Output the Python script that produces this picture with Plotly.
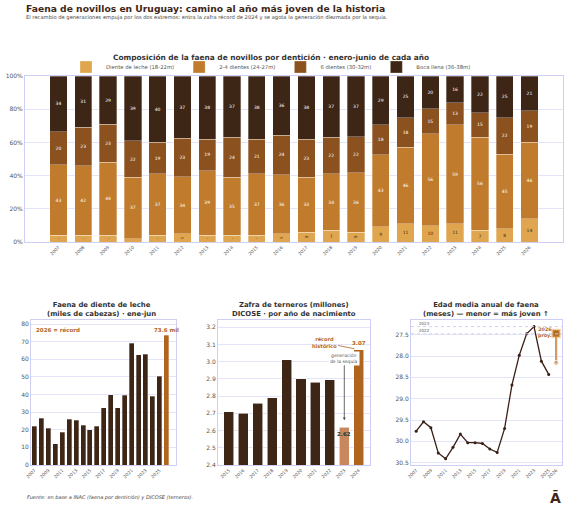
import plotly.graph_objects as go

# --- data -------------------------------------------------------------
years = list(range(2007, 2027))
diente_leche = [4, 4, 4, 2, 4, 5, 4, 4, 4, 5, 6, 7, 6, 9, 11, 10, 11, 7, 8, 14]
dientes_2_4 = [43, 42, 44, 37, 37, 34, 39, 35, 37, 36, 33, 34, 36, 43, 46, 56, 59, 56, 45, 46]
dientes_6 = [20, 23, 23, 22, 19, 23, 19, 24, 21, 24, 23, 22, 22, 18, 18, 15, 13, 15, 22, 19]
boca_llena = [34, 31, 29, 39, 40, 37, 38, 37, 38, 36, 38, 37, 37, 29, 25, 20, 16, 22, 25, 21]
pct_ticks = [0, 20, 40, 60, 80, 100]

leche_miles = [22, 26.5, 21, 12, 18.5, 26, 25.5, 22.5, 20, 22, 32.5, 40, 32.5, 39.5,
               69, 62.5, 63, 39, 50.5, 73.6]

zafra_years = list(range(2015, 2025))
zafra_mill = [2.71, 2.70, 2.76, 2.79, 3.01, 2.90, 2.88, 2.895, 2.62, 3.07]

edad_years = list(range(2007, 2026))
edad_meses = [29.76, 29.54, 29.68, 30.27, 30.41, 30.14, 29.83, 30.03, 30.03, 30.05,
              30.18, 30.26, 29.70, 28.68, 27.98, 27.48, 27.31, 28.12, 28.43]
proy_2026 = 27.47
proy_2026_bajo = 28.16

# --- colours ----------------------------------------------------------
C_LECHE = "#E0A64F"
C_24 = "#C07C2C"
C_6 = "#8B5220"
C_BOCA = "#3E2616"
C_ORANGE = "#B0651E"
C_TAN = "#C8875C"
GRID = "#E3E3FA"
LINE = "#CFCFF5"
TXT = "#3E2616"
FONT = "DejaVu Sans"

fig = go.Figure()

# --- main stacked composition ------------------------------------------
totals = [a + b + c + d for a, b, c, d in zip(diente_leche, dientes_2_4, dientes_6, boca_llena)]
series = [
    ("Diente de leche (18-22m)", diente_leche, C_LECHE, TXT),
    ("2-4 dientes (24-27m)", dientes_2_4, C_24, "white"),
    ("6 dientes (30-32m)", dientes_6, C_6, "white"),
    ("Boca llena (36-38m)", boca_llena, C_BOCA, "white"),
]
for name, vals, col, tcol in series:
    fig.add_trace(go.Bar(
        x=years, y=[v / t * 100 for v, t in zip(vals, totals)],
        name=name, marker=dict(color=col, line=dict(width=0.5, color="rgba(255,255,255,0.6)")),
        width=0.7,
        text=[str(v) if v >= 3 else "" for v in vals],
        textposition="inside", insidetextanchor="middle",
        textfont=dict(size=4.5, color=tcol, family=FONT),
        xaxis="x", yaxis="y", hoverinfo="skip",
    ))

# --- dientes de leche (miles) ------------------------------------------
fig.add_trace(go.Bar(
    x=years, y=leche_miles, width=0.72, showlegend=False,
    marker=dict(color=[C_BOCA] * (len(years) - 1) + [C_ORANGE],
                line=dict(width=0.5, color="rgba(255,255,255,0.6)")),
    xaxis="x2", yaxis="y2",
))

# --- zafra de terneros -------------------------------------------------
fig.add_trace(go.Bar(
    x=zafra_years, y=zafra_mill, width=0.7, showlegend=False,
    marker=dict(color=[C_BOCA] * 8 + [C_TAN, C_ORANGE],
                line=dict(width=0.8, color="rgba(255,255,255,0.7)")),
    xaxis="x3", yaxis="y3",
))

# --- edad media ---------------------------------------------------------
ann = []
shapes = []
for yr in (2023, 2022):
    val = edad_meses[edad_years.index(yr)]
    shapes.append(dict(type="line", xref="x4 domain", yref="y4", x0=0, x1=1, y0=val, y1=val,
                       line=dict(color="#D2D2F2", width=1, dash="dot")))
    ann.append(dict(x=2007.1, y=val, xref="x4", yref="y4", text=str(yr), showarrow=False,
                    xanchor="left", yanchor="bottom", yshift=-1,
                    font=dict(size=4, color="#555", family=FONT)))

fig.add_trace(go.Scatter(
    x=edad_years, y=edad_meses, mode="lines+markers", showlegend=False,
    line=dict(color="#3A1F14", width=1.3), marker=dict(size=3, color="#3A1F14"),
    xaxis="x4", yaxis="y4",
))
fig.add_trace(go.Scatter(
    x=[2026, 2026], y=[proy_2026, proy_2026_bajo], mode="lines+markers", showlegend=False,
    line=dict(color="#D49A66", width=2.2), marker=dict(size=[0, 5], color="#D49A66", symbol="circle"),
    xaxis="x4", yaxis="y4",
))
fig.add_trace(go.Scatter(
    x=[2026], y=[proy_2026], mode="markers", showlegend=False,
    marker=dict(size=7, color=C_ORANGE, symbol="square",
                line=dict(width=2.5, color="rgba(224,166,79,0.45)")),
    xaxis="x4", yaxis="y4",
))

# --- axes -------------------------------------------------------------
W, H = 567, 510


def xd(a, b):
    return [a / W, b / W]


def yd(top, bottom):
    return [1 - bottom / H, 1 - top / H]


common = dict(showline=True, linecolor=LINE, linewidth=1, mirror=True, zeroline=False,
              automargin=False, tickfont=dict(size=6, color="#555", family=FONT))
xcommon = dict(common, showgrid=False, tickangle=-45, ticks="",
               tickfont=dict(size=4.5, color="#555", family=FONT))
ycommon = dict(common, showgrid=True, gridcolor=GRID, gridwidth=1, ticks="")

# --- titles & annotations -------------------------------------------------
ann.append(dict(x=24 / W, y=1 - 1 / H, xref="paper", yref="paper", xanchor="left", yanchor="top",
                text="<b>Faena de novillos en Uruguay: camino al año más joven de la historia</b>",
                font=dict(size=9.2, color=TXT, family=FONT), showarrow=False))
ann.append(dict(x=24 / W, y=1 - 12 / H, xref="paper", yref="paper", xanchor="left", yanchor="top",
                text="El recambio de generaciones empuja por los dos extremos: entra la zafra récord de 2024 "
                     "y se agota la generación diezmada por la sequía.",
                font=dict(size=5.2, color="#444", family=FONT), showarrow=False))
ann.append(dict(x=271 / W, y=1 - 57 / H, xref="paper", yref="paper", xanchor="center", yanchor="middle",
                text="<b>Composición de la faena de novillos por dentición · enero-junio de cada año</b>",
                font=dict(size=7.4, color="#333", family=FONT), showarrow=False))
for cx, txt in [(101, "Faena de diente de leche<br>(miles de cabezas) · ene-jun"),
                (294, "Zafra de terneros (millones)<br>DICOSE · por año de nacimiento"),
                (486, "Edad media anual de faena<br>(meses) — menor = más joven ↑")]:
    ann.append(dict(x=cx / W, y=1 - 320 / H, xref="paper", yref="paper", xanchor="center",
                    yanchor="bottom", text="<b>" + txt + "</b>",
                    font=dict(size=6.9, color="#333", family=FONT), showarrow=False))

ann.append(dict(x=2007, y=76.5, xref="x2", yref="y2", xanchor="left", yanchor="middle",
                text="<b>2026 = récord</b>", font=dict(size=5.5, color=C_ORANGE, family=FONT),
                showarrow=False))
ann.append(dict(x=2026, y=76.5, xref="x2", yref="y2", xanchor="center", yanchor="middle",
                text="<b>73.6 mil</b>", font=dict(size=5.5, color=C_ORANGE, family=FONT),
                showarrow=False))

ann.append(dict(x=2023.7, y=3.075, ax=2021.6, ay=3.11, xref="x3", yref="y3", axref="x3", ayref="y3",
                text="<b>récord<br>histórico</b>", font=dict(size=5, color=C_ORANGE, family=FONT),
                showarrow=True, arrowhead=0, arrowwidth=0.8, arrowcolor=C_ORANGE))
ann.append(dict(x=2024, y=3.078, xref="x3", yref="y3", yanchor="bottom", text="<b>3.07</b>",
                font=dict(size=5.5, color=C_ORANGE, family=FONT), showarrow=False))
ann.append(dict(x=2023, y=2.66, ax=2023, ay=3.02, xref="x3", yref="y3", axref="x3", ayref="y3",
                text="generación<br>de la sequía", font=dict(size=4.5, color="#555", family=FONT),
                showarrow=True, arrowhead=2, arrowsize=0.7, arrowwidth=0.8, arrowcolor="#444",
                bgcolor="white"))
ann.append(dict(x=2023, y=2.58, xref="x3", yref="y3", text="<b>2.62</b>",
                font=dict(size=5.5, color="#333", family=FONT), showarrow=False))

ann.append(dict(x=2025.65, y=27.47, xref="x4", yref="y4", xanchor="right", yanchor="middle",
                text="<b>2026<br>proy.</b>", font=dict(size=4.8, color=C_ORANGE, family=FONT),
                showarrow=False, align="right"))

ann.append(dict(x=25 / W, y=1 - 497 / H, xref="paper", yref="paper", xanchor="left", yanchor="middle",
                text="<i>Fuente: en base a INAC (faena por dentición) y DICOSE (terneros).</i>",
                font=dict(size=5, color="#444", family=FONT), showarrow=False))
ann.append(dict(x=555 / W, y=1 - 497 / H, xref="paper", yref="paper", xanchor="center", yanchor="middle",
                text="<b>Ā</b>", font=dict(size=14, color=TXT, family=FONT), showarrow=False))

fig.update_layout(
    width=W, height=H, margin=dict(l=0, r=0, t=0, b=0, autoexpand=False),
    paper_bgcolor="white", plot_bgcolor="white",
    barmode="stack", bargap=0.3,
    font=dict(family=FONT, color=TXT),
    uniformtext=dict(minsize=4.5, mode="show"),
    legend=dict(orientation="h", x=271 / W, xanchor="center", y=1 - 67 / H, yanchor="middle",
                font=dict(size=5.3, color="#555", family=FONT), itemwidth=30,
                bgcolor="rgba(0,0,0,0)", traceorder="normal"),
    xaxis=dict(xcommon, domain=xd(25, 563), range=[2005.65, 2027.35],
               tickvals=years, anchor="y"),
    yaxis=dict(ycommon, domain=yd(76, 242), range=[0, 100], tickvals=pct_ticks,
               ticktext=[f"{p}%" for p in pct_ticks], anchor="x"),
    xaxis2=dict(xcommon, domain=xd(31, 176), range=[2006.5, 2027.4],
                tickvals=list(range(2007, 2027, 2)), anchor="y2"),
    yaxis2=dict(ycommon, domain=yd(320, 465), range=[0, 82.3], dtick=10, anchor="x2"),
    xaxis3=dict(xcommon, domain=xd(218, 370), range=[2014.25, 2024.78],
                tickvals=zafra_years, anchor="y3"),
    yaxis3=dict(ycommon, domain=yd(320, 465), range=[2.4, 3.242], dtick=0.1, tickformat=".1f",
                anchor="x3"),
    xaxis4=dict(xcommon, domain=xd(411, 562), range=[2006.3, 2026.8],
                tickvals=list(range(2007, 2027, 2)) + [2026], anchor="y4"),
    yaxis4=dict(ycommon, domain=yd(320, 465), range=[30.554, 27.155],
                tickvals=[27.5, 28.0, 28.5, 29.0, 29.5, 30.0, 30.5], tickformat=".1f", anchor="x4"),
    annotations=ann,
    shapes=shapes,
)

# page body has a default 8px margin; drop it so the figure sits at the window corner
fig.write_html("out.html", config={"displayModeBar": False},
               post_script="document.body.style.margin = '0';")
